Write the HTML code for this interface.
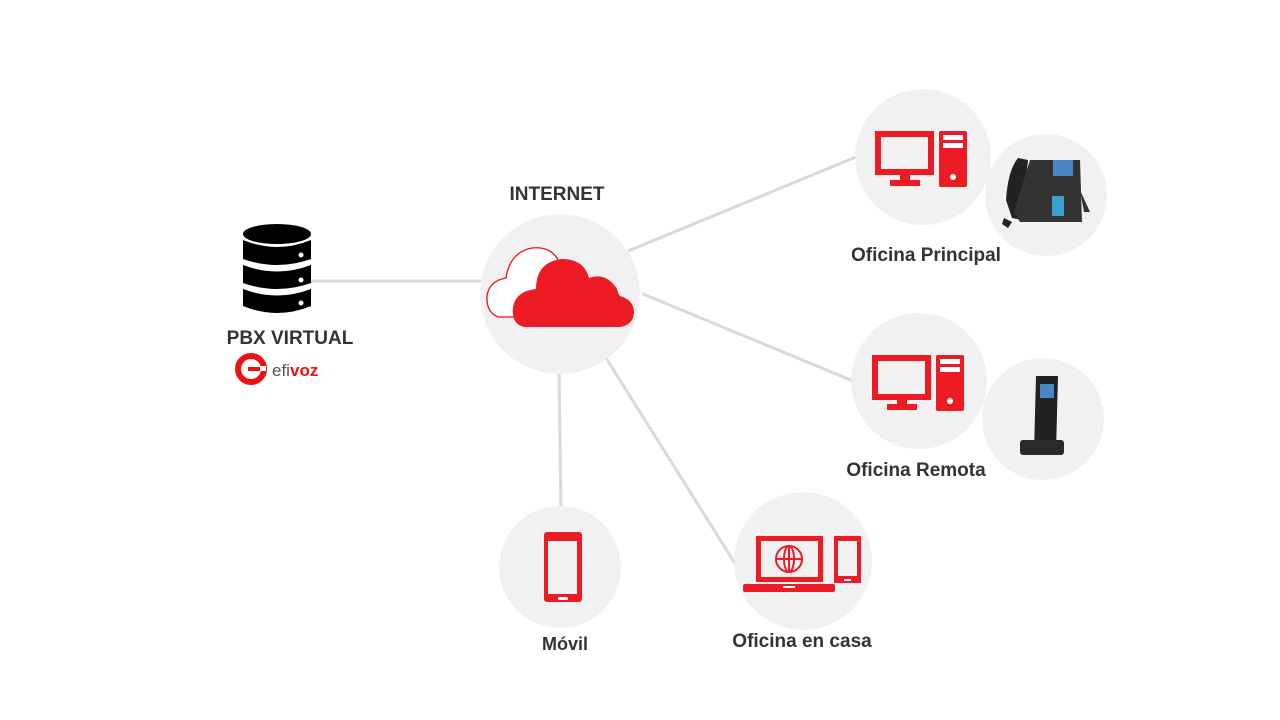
<!DOCTYPE html>
<html><head><meta charset="utf-8"><style>
body{margin:0;background:#fff}
svg{display:block}
text{font-family:"Liberation Sans",sans-serif;font-weight:bold;fill:#333}
</style></head><body>
<svg width="1280" height="720" viewBox="0 0 1280 720">
<g stroke="#d9d9d9" stroke-width="3">
<line x1="308" y1="281" x2="482" y2="281"/>
<line x1="628" y1="251" x2="856" y2="157"/>
<line x1="643" y1="294" x2="853" y2="381"/>
<line x1="559" y1="368" x2="561" y2="512"/>
<line x1="606" y1="358" x2="736" y2="565"/>
</g>
<g fill="#f1f1f1">
<circle cx="560" cy="294" r="80"/>
<circle cx="923" cy="157" r="68"/>
<circle cx="1046" cy="195" r="61"/>
<circle cx="919" cy="381" r="68"/>
<circle cx="1043" cy="419" r="61"/>
<circle cx="560" cy="567" r="61"/>
<circle cx="803" cy="561" r="69"/>
</g>
<!-- server -->
<g fill="#000">
<ellipse cx="277" cy="234" rx="34" ry="10"/>
<path d="M243 240 Q277 254 311 240 V259 Q277 271 243 259Z"/>
<path d="M243 265 Q277 278 311 265 V283 Q277 295 243 283Z"/>
<path d="M243 289 Q277 302 311 289 V306 Q277 320 243 306Z"/>
</g>
<g fill="#fff"><circle cx="301" cy="255" r="2.5"/><circle cx="301" cy="280" r="2.5"/><circle cx="301" cy="303" r="2.5"/></g>
<text x="290" y="344" font-size="19" text-anchor="middle">PBX VIRTUAL</text>
<circle cx="251" cy="369" r="13" fill="none" stroke="#e11" stroke-width="6"/>
<rect x="250" y="366" width="16" height="5" fill="#fff"/>
<rect x="248" y="367" width="12" height="4" fill="#e11"/>
<text x="272" y="376" font-size="17" style="font-weight:normal;fill:#555">efi</text>
<text x="290" y="376" font-size="17" style="fill:#e11">voz</text>
<!-- cloud -->
<text x="557" y="200" font-size="19" text-anchor="middle">INTERNET</text>
<path d="M498 317 Q486 312 487 296 Q489 281 506 278 Q510 252 532 248 Q552 246 559 262 L560 317Z" fill="#fff" stroke="#e11" stroke-width="1.3"/>
<path d="M525 327 Q511 325 513 307 Q516 291 536 289 Q536 262 562 259 Q584 259 589 278 Q606 272 617 289 Q618 294 620 296 Q634 300 634 313 Q633 325 620 327Z" fill="#ed1c24"/>
<!-- desktops -->
<g fill="#ed1c24">
<path fill-rule="evenodd" d="M875 131h59v44h-59zM881 137v32h47v-32z"/>
<rect x="900" y="174" width="10" height="7"/><rect x="890" y="180" width="30" height="6"/>
<rect x="939" y="131" width="28" height="56" rx="2"/>
<path fill-rule="evenodd" d="M872 355h59v45h-59zM878 361v33h47v-33z"/>
<rect x="897" y="399" width="10" height="6"/><rect x="887" y="404" width="30" height="6"/>
<rect x="936" y="355" width="28" height="56" rx="2"/>
</g>
<g fill="#fff">
<rect x="943" y="135" width="20" height="5"/><rect x="943" y="143" width="20" height="5"/><circle cx="953" cy="177" r="3"/>
<rect x="940" y="359" width="20" height="5"/><rect x="940" y="367" width="20" height="5"/><circle cx="950" cy="401" r="3"/>
</g>
<!-- desk phone -->
<path d="M1018 158 Q1008 170 1006 200 L1012 218 L1022 220 L1028 160Z" fill="#222"/>
<path d="M1030 160 L1080 160 L1082 222 L1020 222 L1014 212Z" fill="#333"/>
<rect x="1053" y="160" width="20" height="16" fill="#4a86c5"/>
<rect x="1052" y="196" width="12" height="20" fill="#3aa0d0"/>
<path d="M1080 190 L1090 212 L1084 212Z" fill="#333"/>
<path d="M1004 218 L1012 222 L1008 228 L1002 224Z" fill="#222"/>
<text x="926" y="261" font-size="19" text-anchor="middle">Oficina Principal</text>
<!-- dect -->
<path d="M1036 376 H1058 L1056 452 H1034Z" fill="#222"/>
<rect x="1040" y="384" width="14" height="14" fill="#4a86c5"/>
<rect x="1020" y="440" width="44" height="15" rx="3" fill="#2a2a2a"/>
<text x="916" y="476" font-size="19" text-anchor="middle">Oficina Remota</text>
<!-- mobile -->
<rect x="544" y="532" width="38" height="70" rx="3" fill="#ed1c24"/>
<rect x="548" y="541" width="29" height="53" fill="#f1f1f1"/>
<rect x="558" y="597" width="10" height="3" rx="1" fill="#fff"/>
<text x="565" y="650" font-size="18" text-anchor="middle">Móvil</text>
<!-- casa -->
<g fill="#ed1c24">
<path fill-rule="evenodd" d="M756 536h67v46h-67zM761 541v36h57v-36z"/>
<rect x="743" y="584" width="92" height="8" rx="2"/>
<path fill-rule="evenodd" d="M834 536h27v47h-27zM838 541v35h19v-35z"/>
</g>
<rect x="783" y="586" width="12" height="2" fill="#fff"/>
<rect x="844" y="579" width="7" height="2" fill="#fff"/>
<g fill="none" stroke="#ed1c24" stroke-width="2">
<circle cx="789" cy="559" r="13"/><ellipse cx="789" cy="559" rx="5" ry="13"/>
<line x1="776" y1="559" x2="802" y2="559"/><line x1="789" y1="546" x2="789" y2="572"/>
</g>
<text x="802" y="647" font-size="19" text-anchor="middle">Oficina en casa</text>
</svg>
</body></html>
